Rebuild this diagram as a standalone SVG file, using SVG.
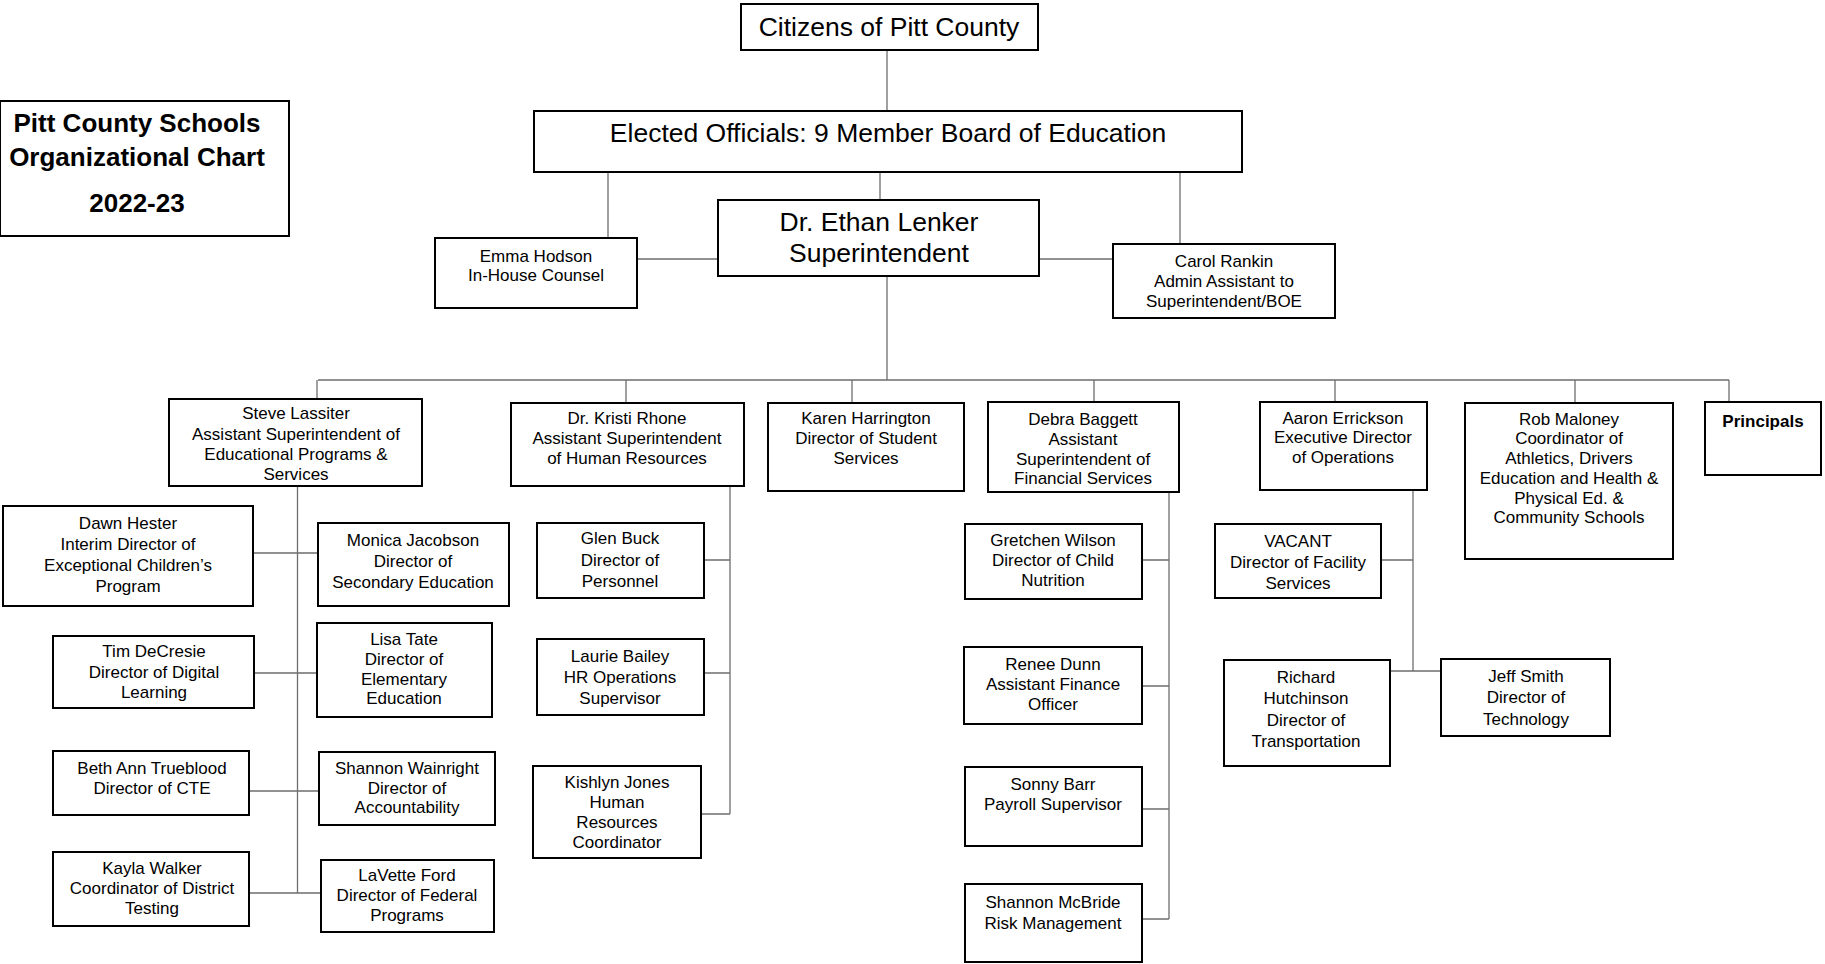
<svg xmlns="http://www.w3.org/2000/svg" width="1825" height="964" viewBox="0 0 1825 964">
<style>
.b{fill:#fff;stroke:#000;stroke-width:2}
.ln{stroke:#6e6e6e;stroke-width:1.3;fill:none}
text{font-family:"Liberation Sans",Arial,sans-serif;font-size:17px;text-anchor:middle;fill:#000}
.big{font-size:26.5px}
.ttl{font-size:26px;font-weight:bold}
.bold{font-weight:bold}
</style>
<rect width="1825" height="964" fill="#fff"/>
<g id="connectors" class="ln">
<path d="M887 51V110M880 173V199M608 173V237M1180 173V243M638 259H717M1040 259H1112M887 277V380M318 380H1729"/>
<path d="M317 380V398M626 380V402M852 380V402M1094 380V401M1335 380V401M1575 380V402M1729 380V401"/>
<path d="M297.5 487V893M254 553H317M255 673H316M250 791H318M250 893H320"/>
<path d="M730 487V814M705 560H730M705 673H730M702 814H730"/>
<path d="M1169 493V919M1143 560H1169M1143 686H1169M1143 809H1169M1143 919H1169"/>
<path d="M1413 491V671M1382 560H1413M1391 671H1440"/>
</g>
<g id="title"><rect class="b" x="0" y="101" width="289" height="135" stroke-width="2.5"/>
<text class="ttl" x="137" y="132">Pitt County Schools</text><text class="ttl" x="137" y="166">Organizational Chart</text><text class="ttl" x="137" y="212">2022-23</text></g>
<g id="citizens"><rect class="b" x="741" y="4" width="297" height="46"/><text class="big" x="889" y="36">Citizens of Pitt County</text></g>
<g id="board"><rect class="b" x="534" y="111" width="708" height="61"/><text class="big" x="888" y="142">Elected Officials: 9 Member Board of Education</text></g>
<g id="superintendent"><rect class="b" x="718" y="200" width="321" height="76"/><text class="big" x="879" y="231">Dr. Ethan Lenker</text><text class="big" x="879" y="262">Superintendent</text></g>
<g id="emma"><rect class="b" x="435" y="238" width="202" height="70"/><text x="536" y="262">Emma Hodson</text><text x="536" y="281">In-House Counsel</text></g>
<g id="carol"><rect class="b" x="1113" y="244" width="222" height="74"/><text x="1224" y="267">Carol Rankin</text><text x="1224" y="287">Admin Assistant to</text><text x="1224" y="307">Superintendent/BOE</text></g>
<g id="steve"><rect class="b" x="169" y="399" width="253" height="87"/><text x="296" y="419">Steve Lassiter</text><text x="296" y="440">Assistant Superintendent of</text><text x="296" y="460">Educational Programs &amp;</text><text x="296" y="480">Services</text></g>
<g id="rhone"><rect class="b" x="511" y="403" width="233" height="83"/><text x="627" y="424">Dr. Kristi Rhone</text><text x="627" y="444">Assistant Superintendent</text><text x="627" y="464">of Human Resources</text></g>
<g id="karen"><rect class="b" x="768" y="403" width="196" height="88"/><text x="866" y="424">Karen Harrington</text><text x="866" y="444">Director of Student</text><text x="866" y="464">Services</text></g>
<g id="debra"><rect class="b" x="988" y="402" width="191" height="90"/><text x="1083" y="425">Debra Baggett</text><text x="1083" y="445">Assistant</text><text x="1083" y="465">Superintendent of</text><text x="1083" y="484">Financial Services</text></g>
<g id="aaron"><rect class="b" x="1260" y="402" width="167" height="88"/><text x="1343" y="424">Aaron Errickson</text><text x="1343" y="443">Executive Director</text><text x="1343" y="463">of Operations</text></g>
<g id="rob"><rect class="b" x="1465" y="403" width="208" height="156"/><text x="1569" y="425">Rob Maloney</text><text x="1569" y="444">Coordinator of</text><text x="1569" y="464">Athletics, Drivers</text><text x="1569" y="484">Education and Health &amp;</text><text x="1569" y="504">Physical Ed. &amp;</text><text x="1569" y="523">Community Schools</text></g>
<g id="principals"><rect class="b" x="1705" y="402" width="116" height="73"/><text class="bold" x="1763" y="427">Principals</text></g>
<g id="dawn"><rect class="b" x="3" y="506" width="250" height="100"/><text x="128" y="529">Dawn Hester</text><text x="128" y="550">Interim Director of</text><text x="128" y="571">Exceptional Children’s</text><text x="128" y="592">Program</text></g>
<g id="monica"><rect class="b" x="318" y="523" width="191" height="83"/><text x="413" y="546">Monica Jacobson</text><text x="413" y="567">Director of</text><text x="413" y="588">Secondary Education</text></g>
<g id="tim"><rect class="b" x="53" y="636" width="201" height="72"/><text x="154" y="657">Tim DeCresie</text><text x="154" y="678">Director of Digital</text><text x="154" y="698">Learning</text></g>
<g id="lisa"><rect class="b" x="317" y="623" width="175" height="94"/><text x="404" y="645">Lisa Tate</text><text x="404" y="665">Director of</text><text x="404" y="685">Elementary</text><text x="404" y="704">Education</text></g>
<g id="beth"><rect class="b" x="53" y="751" width="196" height="64"/><text x="152" y="774">Beth Ann Trueblood</text><text x="152" y="794">Director of CTE</text></g>
<g id="shannonw"><rect class="b" x="319" y="752" width="176" height="73"/><text x="407" y="774">Shannon Wainright</text><text x="407" y="794">Director of</text><text x="407" y="813">Accountability</text></g>
<g id="kayla"><rect class="b" x="53" y="852" width="196" height="74"/><text x="152" y="874">Kayla Walker</text><text x="152" y="894">Coordinator of District</text><text x="152" y="914">Testing</text></g>
<g id="lavette"><rect class="b" x="321" y="860" width="173" height="72"/><text x="407" y="881">LaVette Ford</text><text x="407" y="901">Director of Federal</text><text x="407" y="921">Programs</text></g>
<g id="glen"><rect class="b" x="537" y="523" width="167" height="75" stroke-width="2.5"/><text x="620" y="544">Glen Buck</text><text x="620" y="566">Director of</text><text x="620" y="587">Personnel</text></g>
<g id="laurie"><rect class="b" x="537" y="639" width="167" height="76" stroke-width="2.5"/><text x="620" y="662">Laurie Bailey</text><text x="620" y="683">HR Operations</text><text x="620" y="704">Supervisor</text></g>
<g id="kishlyn"><rect class="b" x="533" y="766" width="168" height="92" stroke-width="2.5"/><text x="617" y="788">Kishlyn Jones</text><text x="617" y="808">Human</text><text x="617" y="828">Resources</text><text x="617" y="848">Coordinator</text></g>
<g id="gretchen"><rect class="b" x="965" y="524" width="177" height="75"/><text x="1053" y="546">Gretchen Wilson</text><text x="1053" y="566">Director of Child</text><text x="1053" y="586">Nutrition</text></g>
<g id="renee"><rect class="b" x="964" y="647" width="178" height="77" stroke-width="2.5"/><text x="1053" y="670">Renee Dunn</text><text x="1053" y="690">Assistant Finance</text><text x="1053" y="710">Officer</text></g>
<g id="sonny"><rect class="b" x="965" y="767" width="177" height="79"/><text x="1053" y="790">Sonny Barr</text><text x="1053" y="810">Payroll Supervisor</text></g>
<g id="shannonm"><rect class="b" x="965" y="884" width="177" height="78"/><text x="1053" y="908">Shannon McBride</text><text x="1053" y="929">Risk Management</text></g>
<g id="vacant"><rect class="b" x="1215" y="524" width="166" height="74"/><text x="1298" y="547">VACANT</text><text x="1298" y="568">Director of Facility</text><text x="1298" y="589">Services</text></g>
<g id="richard"><rect class="b" x="1224" y="660" width="166" height="106" stroke-width="2.5"/><text x="1306" y="683">Richard</text><text x="1306" y="704">Hutchinson</text><text x="1306" y="726">Director of</text><text x="1306" y="747">Transportation</text></g>
<g id="jeff"><rect class="b" x="1441" y="659" width="169" height="77"/><text x="1526" y="682">Jeff Smith</text><text x="1526" y="703">Director of</text><text x="1526" y="725">Technology</text></g>
</svg>
